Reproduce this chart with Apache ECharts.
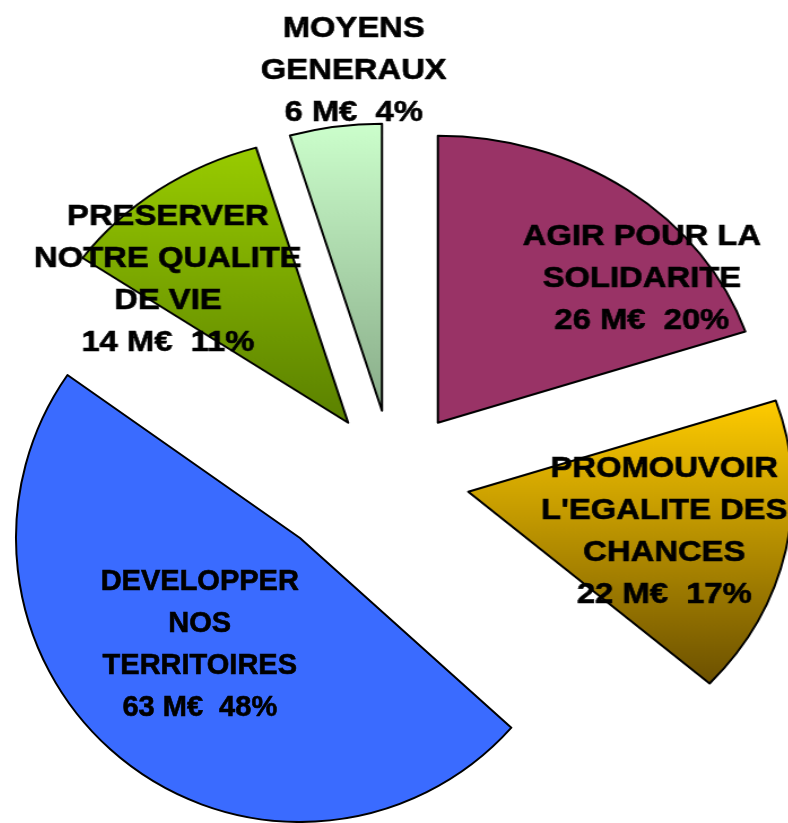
<!DOCTYPE html>
<html>
<head>
<meta charset="utf-8">
<script src="https://cdn.jsdelivr.net/npm/echarts@6/dist/echarts.min.js"></script>
<style>
  html, body { margin: 0; padding: 0; background: #fff; overflow: hidden; }
  .box { position: absolute; left: 0; top: 0; width: 788px; height: 823px; }
  /* the original pie is drawn a bit wider than tall, except the big slice */
  #wide { transform: scaleX(1.13); transform-origin: 393px 0; }
</style>
</head>
<body>
<div id="wide" class="box"></div>
<div id="big" class="box"></div>
<script>
// budget split, clockwise from 12 o'clock
const names = [
    'AGIR POUR LA\nSOLIDARITE',
    'PROMOUVOIR\nL\'EGALITE DES\nCHANCES',
    'DEVELOPPER\nNOS\nTERRITOIRES',
    'PRESERVER\nNOTRE QUALITE\nDE VIE',
    'MOYENS\nGENERAUX'
];
const amounts = [26, 22, 63, 14, 6];          // M€
const percents = ['20%', '17%', '48%', '11%', '4%'];

// looks
const BIG = 2; // index of the slice pulled out on its own
const fills = [
    '#993366',
    new echarts.graphic.LinearGradient(0, 0, 0, 1, [
        { offset: 0, color: '#ffcc00' }, { offset: 1, color: '#6b5000' }
    ]),
    '#3a6bff',
    new echarts.graphic.LinearGradient(0, 0, 0, 1, [
        { offset: 0, color: '#99cc00' }, { offset: 1, color: '#5a8000' }
    ]),
    new echarts.graphic.LinearGradient(0, 0, 0, 1, [
        { offset: 0, color: '#ccffcc' }, { offset: 1, color: '#88ab88' }
    ])
];
// label nudges from the default 'inside' spot
const labelShift = [
    [95, -25], [30, 11], [-10, -7], [-74, -24], [-4, -195]
];

let labelStyle = {
    show: true,
    position: 'inside',
    rotate: 0,
    color: '#000',
    textBorderColor: '#000',
    textBorderWidth: 0.6,
    fontFamily: '"Liberation Sans", Arial, sans-serif',
    fontWeight: 'bold',
    fontSize: 29,
    lineHeight: 42,
    overflow: 'none',
    formatter: function (p) {
        return names[p.dataIndex] + '\n' + amounts[p.dataIndex] + ' M€  ' + percents[p.dataIndex];
    }
};

let makeData = function (showBig) {
    return amounts.map(function (v, i) {
        let visible = (i === BIG) === showBig;
        return {
            value: v,
            name: names[i],
            selected: !showBig,
            itemStyle: visible
                ? { color: fills[i], borderColor: '#000', borderWidth: 2 }
                : { color: 'rgba(0,0,0,0)', borderWidth: 0 },
            label: { show: visible }
        };
    });
};

let shiftLabel = function (p) {
    let s = labelShift[p.dataIndex];
    return { dx: s[0], dy: s[1] };
};

let baseSeries = {
    type: 'pie',
    startAngle: 90,
    clockwise: true,
    emphasis: { disabled: true },
    label: labelStyle,
    labelLine: { show: false },
    labelLayout: shiftLabel
};

let wideChart = echarts.init(document.getElementById('wide'));
wideChart.setOption({
    animation: false,
    backgroundColor: 'transparent',
    series: [Object.assign({}, baseSeries, {
        center: [393, 478],
        radius: 287,
        selectedMode: 'multiple',
        selectedOffset: 68,
        data: makeData(false)
    })]
});

let bigChart = echarts.init(document.getElementById('big'));
bigChart.setOption({
    animation: false,
    backgroundColor: 'transparent',
    series: [Object.assign({}, baseSeries, {
        center: [300, 538],
        radius: 284,
        data: makeData(true)
    })]
});
</script>
</body>
</html>
